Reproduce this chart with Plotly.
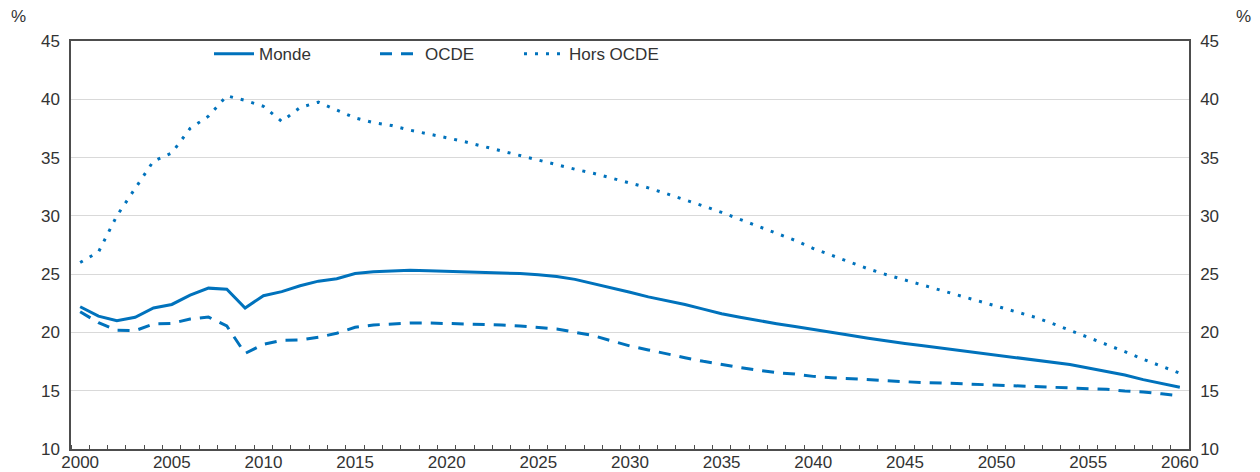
import plotly.graph_objects as go

years = list(range(2000, 2061))

monde = [22.2, 21.4, 21.0, 21.3, 22.1, 22.4, 23.2, 23.8, 23.7, 22.1,
         23.15, 23.5, 24.0, 24.4, 24.6, 25.05, 25.2, 25.27, 25.33, 25.3,
         25.25, 25.2, 25.17, 25.13, 25.05, 24.95, 24.8, 24.55, 24.2, 23.85,
         23.45, 23.05, 22.75, 22.4, 22.0, 21.6, 21.3, 21.0, 20.75, 20.5,
         20.27, 20.0, 19.75, 19.5, 19.25, 19.05, 18.85, 18.65, 18.45, 18.25,
         18.05, 17.85, 17.7, 17.45, 17.25, 16.95, 16.65, 16.35, 15.95, 15.6,
         15.3]

ocde = [21.78, 20.83, 20.18, 20.15, 20.72, 20.78, 21.15, 21.32, 20.55, 18.2,
        18.98, 19.32, 19.35, 19.58, 19.93, 20.44, 20.64, 20.72, 20.81, 20.81,
        20.78, 20.72, 20.7, 20.64, 20.55, 20.44, 20.3, 20.01, 19.73, 19.27,
        18.84, 18.5, 18.15, 17.83, 17.52, 17.24, 16.98, 16.75, 16.55, 16.43,
        16.23, 16.12, 16.03, 15.95, 15.86, 15.78, 15.69, 15.66, 15.6, 15.52,
        15.46, 15.43, 15.38, 15.32, 15.26, 15.2, 15.12, 14.97, 14.89, 14.74,
        14.57]

hors_ocde = [26.0, 26.9, 30.0, 32.3, 34.7, 35.4, 37.5, 38.55, 40.3, 39.9,
             39.4, 38.1, 39.3, 39.75, 39.1, 38.4, 38.0, 37.75, 37.35, 37.05,
             36.7, 36.35, 35.95, 35.6, 35.2, 34.8, 34.4, 34.0, 33.65, 33.25,
             32.8, 32.4, 31.9, 31.4, 30.85, 30.3, 29.7, 29.1, 28.5, 27.9,
             27.2, 26.6, 26.05, 25.45, 24.95, 24.5, 24.0, 23.55, 23.15, 22.7,
             22.25, 21.8, 21.35, 20.8, 20.2, 19.6, 18.95, 18.35, 17.7, 17.1,
             16.5]

names = ["Monde", "OCDE", "Hors OCDE"]
y_ticks = [10, 15, 20, 25, 30, 35, 40, 45]
x_ticks = list(range(2000, 2061, 5))

COLOR = "#0072bc"
TXT = "#333333"
AX = "#4d4d4d"
GRID = "#d9d9d9"
FONT = "Arial, Liberation Sans, sans-serif"
FS = 17

fig = go.Figure()
fig.add_trace(go.Scatter(x=years, y=monde, name=names[0], mode="lines",
                         line=dict(color=COLOR, width=3), legend="legend",
                         hoverinfo="skip"))
fig.add_trace(go.Scatter(x=years, y=ocde, name=names[1], mode="lines",
                         line=dict(color=COLOR, width=3, dash="12px,9px"),
                         legend="legend2", hoverinfo="skip"))
fig.add_trace(go.Scatter(x=years, y=hors_ocde, name=names[2], mode="lines",
                         line=dict(color=COLOR, width=3, dash="3px,8px"),
                         legend="legend3", hoverinfo="skip"))
# invisible copy to anchor the right-hand axis
fig.add_trace(go.Scatter(x=years, y=monde, yaxis="y2", mode="lines",
                         line=dict(color="rgba(0,0,0,0)", width=0),
                         showlegend=False, hoverinfo="skip"))

legend_common = dict(orientation="h", yanchor="top", xanchor="left",
                     bgcolor="rgba(0,0,0,0)", font=dict(family=FONT, size=FS, color=TXT),
                     itemwidth=40)
W = 1118.0
def lx(px):
    return (px - 71) / W

LY = 1.012

fig.update_layout(
    template="none",
    width=1260, height=472,
    margin=dict(l=71, r=71, t=41, b=23, autoexpand=False),
    paper_bgcolor="white", plot_bgcolor="white",
    font=dict(family=FONT, size=FS, color=TXT),
    showlegend=True,
    legend=dict(x=lx(209), y=LY, **legend_common),
    legend2=dict(x=lx(375), y=LY, **legend_common),
    legend3=dict(x=lx(519), y=LY, **legend_common),
    xaxis=dict(
        range=[1999.5, 2060.5], tickmode="array", tickvals=x_ticks,
        ticktext=[str(v) for v in x_ticks], ticks="", showgrid=False,
        showline=True, linecolor=AX, linewidth=1.5, mirror=True,
        tickfont=dict(size=FS, color=TXT), zeroline=False, automargin=False,
        ticklabelstandoff=-3,
        minor=dict(ticks="inside", tick0=1999.5, dtick=1, ticklen=4,
                   tickcolor=AX, tickwidth=1, showgrid=False),
    ),
    yaxis=dict(
        range=[10, 45], tickmode="array", tickvals=y_ticks, ticks="",
        showgrid=True, gridcolor=GRID, gridwidth=1, showline=True,
        linecolor=AX, linewidth=1.5, zeroline=False, automargin=False,
        tickfont=dict(size=FS, color=TXT), ticklabelstandoff=6,
    ),
    yaxis2=dict(
        range=[10, 45], tickmode="array", tickvals=y_ticks, ticks="",
        overlaying="y", side="right", showgrid=False, showline=True,
        linecolor=AX, linewidth=1.5, zeroline=False, automargin=False,
        tickfont=dict(size=FS, color=TXT), ticklabelstandoff=6,
    ),
    annotations=[
        dict(text="%", xref="paper", yref="paper", x=-53/W, y=1 + 24/408,
             xanchor="center", yanchor="middle", showarrow=False,
             font=dict(size=FS, color=TXT)),
        dict(text="%", xref="paper", yref="paper", x=1 + 54/W, y=1 + 24/408,
             xanchor="center", yanchor="middle", showarrow=False,
             font=dict(size=FS, color=TXT)),
    ],
)

fig.write_html("out.html", config={"displayModeBar": False},
               post_script="document.body.style.margin='0';document.body.style.overflow='hidden';")
